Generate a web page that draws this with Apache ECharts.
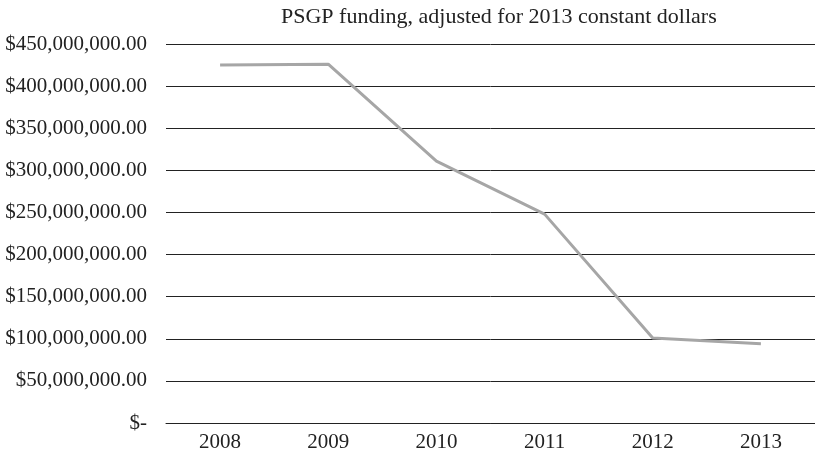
<!DOCTYPE html>
<html>
<head>
<meta charset="utf-8">
<script src="https://cdn.jsdelivr.net/npm/echarts@6/dist/echarts.min.js"></script>
<style>html,body{margin:0;padding:0;background:#fff}#c{width:815px;height:455px}</style>
</head>
<body>
<div id="c"></div>
<script>
const categories = ['2008', '2009', '2010', '2011', '2012', '2013'];
const funding = [425000000, 426000000, 311000000, 248000000, 101000000, 94000000];
const titleText = 'PSGP funding, adjusted for 2013 constant dollars';

function fmt(v) {
  if (v === 0) return '$-';
  return '$' + v.toLocaleString('en-US', {minimumFractionDigits: 2, maximumFractionDigits: 2});
}

const chart = echarts.init(document.getElementById('c'));
const font = 'Liberation Serif';
chart.setOption({
  animation: false,
  title: {
    text: titleText, left: 276, top: 1,
    textStyle: {fontFamily: font, fontSize: 22, fontWeight: 'normal', color: '#222'}
  },
  grid: {left: 166, right: 0, top: 44, bottom: 32},
  xAxis: {
    type: 'category', data: categories, boundaryGap: true,
    axisLine: {show: true, lineStyle: {color: '#222', width: 1}},
    axisTick: {show: false},
    axisLabel: {fontFamily: font, fontSize: 21, color: '#222', margin: 9}
  },
  yAxis: {
    type: 'value', min: 0, max: 450000000, interval: 50000000,
    axisLine: {show: false}, axisTick: {show: false},
    splitLine: {lineStyle: {color: '#222', width: 1}},
    axisLabel: {fontFamily: font, fontSize: 21, color: '#222', margin: 19, formatter: fmt}
  },
  series: [{
    type: 'line', data: funding, symbol: 'none',
    lineStyle: {color: '#a6a6a6', width: 3}
  }]
});
</script>
</body>
</html>
